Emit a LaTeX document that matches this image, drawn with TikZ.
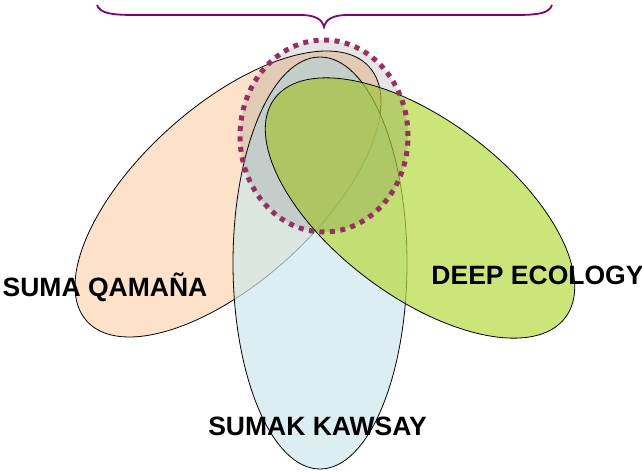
\documentclass[tikz,border=0pt]{standalone}
\usepackage{fontspec}
\setmainfont{Liberation Sans}
\begin{document}
\begin{tikzpicture}[x=1pt,y=1pt,
  petal/.style={draw=black, line width=0.8pt, fill opacity=0.7},
  focus/.style={draw={rgb,255:red,153;green,45;blue,102}, line width=5pt,
    dash pattern=on 5pt off 5.5pt, fill=black, fill opacity=0.1},
  lbl/.style={font=\fontsize{26.5pt}{30pt}\selectfont\bfseries, text=black, inner sep=0pt, anchor=base},
  bracecol/.style={draw={rgb,255:red,128;green,0;blue,128}, line width=1.8pt}]
\definecolor{orangec}{RGB}{252,214,178}
\definecolor{bluec}{RGB}{205,231,235}
\definecolor{greenc}{RGB}{182,218,62}
\useasboundingbox (0,0) rectangle (642,471);
% petals
\draw[petal, fill=orangec, rotate around={42:(228,277)}] (228,277) ellipse [x radius=190pt, y radius=88pt];
\draw[petal, fill=bluec] (320,208) ellipse [x radius=87pt, y radius=206pt];
\draw[petal, fill=greenc, rotate around={-37:(420,263)}] (420,263) ellipse [x radius=182pt, y radius=88pt];
% dotted focus
\draw[focus] (324,335) ellipse [x radius=84pt, y radius=96pt];
% brace
\draw[bracecol] (97,466) .. controls (100,458) and (110,456) .. (135,456) -- (300,456)
  .. controls (315,456) and (322,452) .. (324,444)
  .. controls (326,452) and (333,456) .. (348,456) -- (515,456)
  .. controls (540,456) and (549,458) .. (552,466);
% labels
\node[lbl] (sq) at (105,174) {SUMA QAMAÑA};
\node[lbl] (de) at (537.5,186) {DEEP ECOLOGY};
\node[lbl] (sk) at (317.5,36) {SUMAK KAWSAY};
\end{tikzpicture}
\end{document}
